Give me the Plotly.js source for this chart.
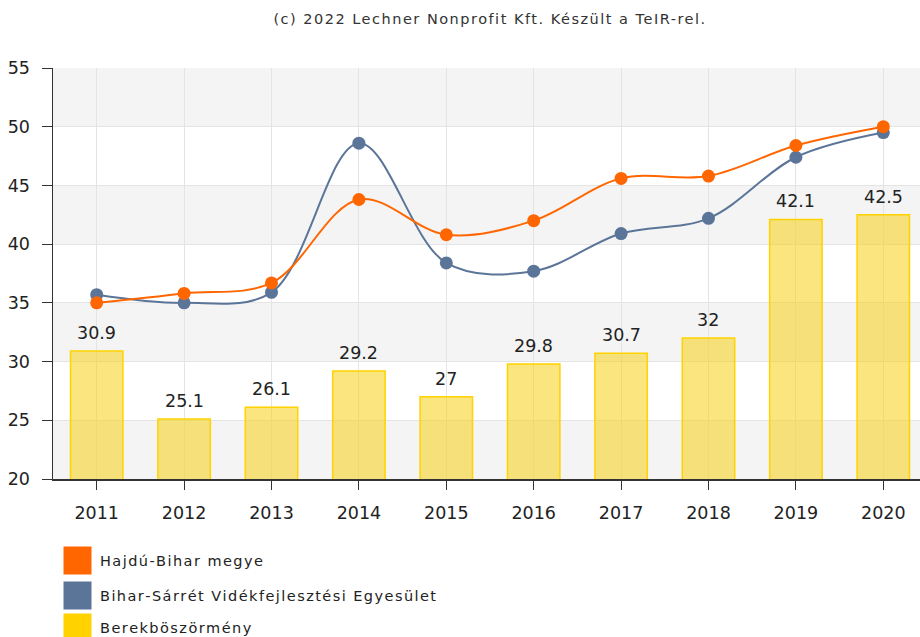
<!DOCTYPE html>
<html><head><meta charset="utf-8">
<script src="https://cdn.plot.ly/plotly-3.0.1.min.js"></script>
<style>
html,body{margin:0;padding:0;background:#fff;}
#chart{width:920px;height:637px;}
#chart .gtitle{letter-spacing:1.5px;}
</style>
</head><body><div id="chart"></div>
<script>
const years = ['2011','2012','2013','2014','2015','2016','2017','2018','2019','2020'];
const hajduBihar = [35.0, 35.8, 36.7, 43.8, 40.8, 42.0, 45.6, 45.8, 48.4, 50.0];
const biharSarret = [35.7, 35.0, 35.9, 48.6, 38.4, 37.7, 40.9, 42.2, 47.4, 49.5];
const berekboszormeny = [30.9, 25.1, 26.1, 29.2, 27, 29.8, 30.7, 32, 42.1, 42.5];
const seriesNames = ['Hajdú-Bihar megye', 'Bihar-Sárrét Vidékfejlesztési Egyesület', 'Berekböszörmény'];
const seriesColors = ['#ff6600', '#5b7599', '#ffd200'];
const yTicks = [20, 25, 30, 35, 40, 45, 50, 55];
const titleText = '(c) 2022 Lechner Nonprofit Kft. Készült a TeIR-rel.';

const font = 'DejaVu Sans, Verdana, sans-serif';

const traces = [
  {type:'bar', x:years, y:berekboszormeny, base:0, width:0.6,
   marker:{color:'rgba(247,208,25,0.56)', line:{color:'#ffd200', width:1.5}},
   showlegend:false, hoverinfo:'x+y'},
  {type:'scatter', mode:'lines+markers', x:years, y:biharSarret,
   line:{color:seriesColors[1], width:2, shape:'spline', smoothing:1},
   marker:{color:seriesColors[1], size:13}, showlegend:false},
  {type:'scatter', mode:'lines+markers', x:years, y:hajduBihar,
   line:{color:seriesColors[0], width:2, shape:'spline', smoothing:1},
   marker:{color:seriesColors[0], size:13}, showlegend:false}
];

const shapes = [];
for (let i = 0; i < yTicks.length - 1; i++) {
  if (i % 2 === 0) {
    shapes.push({type:'rect', xref:'paper', yref:'y', x0:0, x1:1, y0:yTicks[i], y1:yTicks[i+1],
      fillcolor:'#f4f4f4', line:{width:0}, layer:'below'});
  }
}
const annotations = [];
// bar value labels (x given as category index)
years.forEach((yr, i) => {
  annotations.push({xref:'x', yref:'y', x:i, y:berekboszormeny[i], yanchor:'bottom', yshift:6,
    text:String(berekboszormeny[i]), showarrow:false,
    font:{family:font, size:17.5, color:'#222'}});
});
// legend
const legendTop = [546, 581, 613];
seriesNames.forEach((n, i) => {
  const py = 1 - (legendTop[i] - 68) / (479 - 68);
  const py2 = 1 - (legendTop[i] + 29 - 68) / (479 - 68);
  const x0 = (63 - 53) / 867, x1 = (92 - 53) / 867;
  shapes.push({type:'rect', xref:'paper', yref:'paper', x0:x0, x1:x1, y0:py2, y1:py,
    fillcolor:seriesColors[i], line:{color:'#ffffff', width:1}});
  annotations.push({xref:'paper', yref:'paper', x:(98 - 53) / 867, y:(py + py2) / 2,
    xanchor:'left', yanchor:'middle', text:n.split('').join('\u200A'), showarrow:false,
    font:{family:font, size:14.5, color:'#222'}});
});

const layout = {
  width:920, height:637,
  margin:{l:53, r:0, t:68, b:158},
  paper_bgcolor:'#fff', plot_bgcolor:'#fff',
  title:{text:titleText, font:{family:font, size:14.5, color:'#333'}, x:490/920, xanchor:'center', y:0.971, yanchor:'middle'},
  xaxis:{type:'category', range:[-0.5, 9.42], showgrid:true, gridcolor:'#e4e4e4', gridwidth:1,
    ticks:'outside', ticklen:9, tickcolor:'#333', showline:true, linecolor:'#333', linewidth:1.5,
    ticklabelstandoff:8,
    tickfont:{family:font, size:17.5, color:'#222'}, zeroline:false, fixedrange:true},
  yaxis:{range:[20, 55], tickvals:yTicks, showgrid:true, gridcolor:'#e4e4e4', gridwidth:1,
    ticks:'outside', ticklen:10, tickcolor:'#333', showline:true, linecolor:'#333', linewidth:1.5,
    ticklabelstandoff:8,
    tickfont:{family:font, size:17.5, color:'#222'}, zeroline:false, fixedrange:true},
  shapes:shapes,
  annotations:annotations,
  showlegend:false
};
Plotly.newPlot('chart', traces, layout, {staticPlot:true});
</script>
</body></html>
